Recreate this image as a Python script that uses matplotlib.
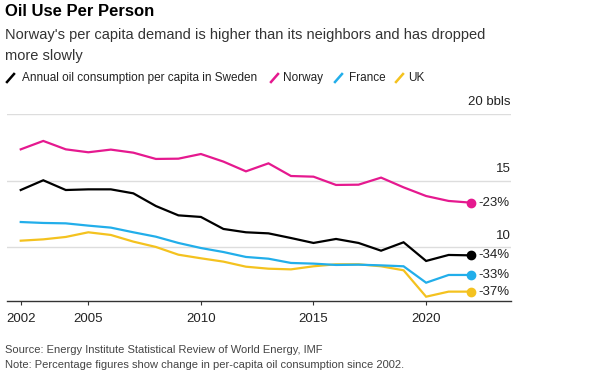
import numpy as np
import matplotlib
matplotlib.use("Agg")
import matplotlib.pyplot as plt
from matplotlib.lines import Line2D

years = list(range(2002, 2023))

sweden = [14.3, 15.03, 14.3, 14.35, 14.35, 14.05, 13.1, 12.4, 12.28, 11.38, 11.13,
          11.05, 10.7, 10.33, 10.63, 10.33, 9.75, 10.38, 8.98, 9.43, 9.4]
norway = [17.35, 17.98, 17.35, 17.13, 17.33, 17.1, 16.63, 16.65, 17.0, 16.43, 15.7,
          16.3, 15.35, 15.3, 14.68, 14.7, 15.23, 14.5, 13.85, 13.48, 13.35]
france = [11.9, 11.83, 11.8, 11.63, 11.48, 11.13, 10.8, 10.33, 9.95, 9.65, 9.28,
          9.15, 8.83, 8.78, 8.68, 8.7, 8.65, 8.58, 7.35, 7.93, 7.93]
uk = [10.5, 10.6, 10.78, 11.13, 10.93, 10.43, 10.03, 9.45, 9.18, 8.93, 8.55,
      8.4, 8.35, 8.58, 8.73, 8.73, 8.58, 8.28, 6.3, 6.68, 6.68]

series_names = ["Annual oil consumption per capita in Sweden", "Norway", "France", "UK"]
end_labels = ["-34%", "-23%", "-33%", "-37%"]
colors = ["#000000", "#e5198f", "#22aeea", "#f4c21f"]

y_ticks = [10, 15, 20]
y_tick_labels = ["10", "15", "20 bbls"]
x_ticks = [2002, 2005, 2010, 2015, 2020]

plt.rcParams["font.family"] = ["Liberation Sans", "DejaVu Sans"]

W, H = 607, 374
fig = plt.figure(figsize=(W / 100, H / 100), dpi=100)

# axes placed by pixel measurements of the reference
left, right, top, bottom = 7, 511, 114, 300.7
ax = fig.add_axes([left / W, 1 - bottom / H, (right - left) / W, (bottom - top) / H])
ax.set_xlim(2001.39, 2023.77)
ax.set_ylim(6, 20)

for t in y_ticks:
    ax.axhline(t, color="#dddddd", lw=1.0, zorder=1)

all_series = [sweden, norway, france, uk]
# draw order: UK, France, Sweden, Norway
for vals, col in zip([uk, france, sweden, norway], [colors[3], colors[2], colors[0], colors[1]]):
    ax.plot(years, vals, color=col, lw=1.6, zorder=3, solid_joinstyle="miter")

for vals, col, lab in zip(all_series, colors, end_labels):
    ax.plot(years[-1], vals[-1], "o", color=col, ms=6, zorder=4)
    ax.annotate(lab, (years[-1], vals[-1]), xytext=(5, 0), textcoords="offset points",
                va="center", ha="left", fontsize=9.5, color="#222222")

for t, lab in zip(y_ticks, y_tick_labels):
    ax.annotate(lab, (1, t), xycoords=("axes fraction", "data"), xytext=(0, 4),
                textcoords="offset points", ha="right", va="bottom",
                fontsize=9.5, color="#222222")

for s in ["top", "right", "left"]:
    ax.spines[s].set_visible(False)
ax.spines["bottom"].set_color("#333333")
ax.spines["bottom"].set_linewidth(1.0)
ax.set_yticks([])
ax.set_xticks(x_ticks)
ax.set_xticklabels([str(x) for x in x_ticks], fontsize=9.5, color="#222222")
ax.tick_params(axis="x", length=3, width=0.8, color="#333333", pad=6)

# header
fig.text(5 / W, 1 - 12 / H, "Oil Use Per Person", fontsize=12, fontweight="bold",
         va="center", ha="left", color="#000000")
fig.text(5 / W, 1 - 35 / H, "Norway's per capita demand is higher than its neighbors and has dropped",
         fontsize=10.5, va="center", ha="left", color="#333333")
fig.text(5 / W, 1 - 56 / H, "more slowly", fontsize=10.5, va="center", ha="left", color="#333333")

# legend with slanted markers
marker_x = [7, 271, 335, 396]
text_x = [22, 283, 349, 408]
ly = 78
for x0, tx, name, col in zip(marker_x, text_x, series_names, colors):
    fig.add_artist(Line2D([x0 / W, (x0 + 7) / W], [1 - (ly + 4) / H, 1 - (ly - 4) / H],
                          color=col, lw=1.8, transform=fig.transFigure))
    fig.text(tx / W, 1 - ly / H, name, fontsize=8.5, va="center", ha="left",
             color="#222222")

# footer
fig.text(5 / W, 1 - 350 / H, "Source: Energy Institute Statistical Review of World Energy, IMF",
         fontsize=8, va="center", ha="left", color="#444444")
fig.text(5 / W, 1 - 365 / H, "Note: Percentage figures show change in per-capita oil consumption since 2002.",
         fontsize=8, va="center", ha="left", color="#444444")

fig.savefig("out.png", dpi=100)
